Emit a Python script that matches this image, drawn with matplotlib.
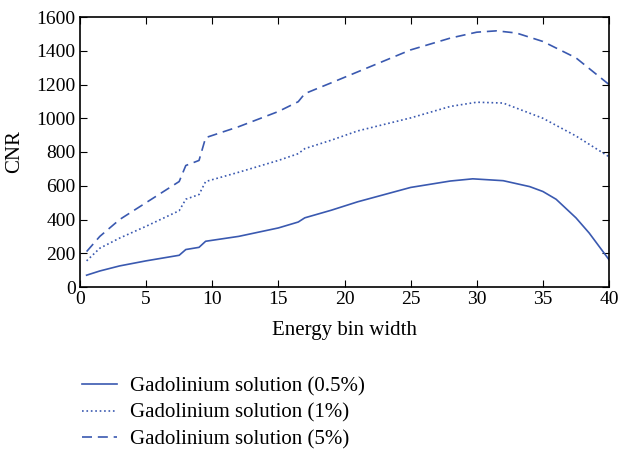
import numpy as np
import matplotlib
matplotlib.use('Agg')
from matplotlib import pyplot as plt

# values
x_lo = [0.5, 1.5, 3, 5, 7.5, 8, 9, 9.5, 12, 15, 16.5, 17, 19, 21, 25, 28, 29.7, 32, 34, 35, 36, 37.5, 38.5, 40]
cnr_05 = [70, 95, 125, 155, 188, 222, 235, 271, 300, 350, 385, 410, 455, 505, 590, 628, 641, 630, 595, 566, 520, 410, 320, 162]
x_mid = [0.5, 1.5, 3, 5, 7.5, 8, 9, 9.5, 12, 15, 16.5, 17, 19, 21, 25, 28, 30, 32, 35, 37.5, 40]
cnr_1 = [155, 230, 290, 360, 452, 520, 548, 625, 680, 750, 790, 820, 870, 925, 1002, 1070, 1095, 1090, 1000, 895, 772]
x_hi = [0.5, 1.5, 3, 5, 7.5, 8, 9, 9.5, 12, 15, 16.5, 17, 19, 21, 25, 28, 30, 31.5, 33, 35, 37.5, 40]
cnr_5 = [210, 300, 400, 500, 625, 720, 750, 885, 950, 1040, 1098, 1146, 1210, 1275, 1405, 1475, 1510, 1518, 1505, 1455, 1358, 1200]

plt.rcParams['font.family'] = ['Liberation Serif', 'DejaVu Serif']
matplotlib.rc('xtick', labelsize=14)
matplotlib.rc('ytick', labelsize=14)
col = '#3a59b0'

fig = plt.figure(figsize=(6.2, 4.5), dpi=100)
ax = fig.add_axes([80/620, 1-287/450, 529/620, 270/450])
l1, = ax.plot(x_lo, cnr_05, '-', color=col, lw=1.2, label='Gadolinium solution (0.5%)')
l2, = ax.plot(x_mid, cnr_1, ':', color=col, lw=1.2, label='Gadolinium solution (1%)')
l3, = ax.plot(x_hi, cnr_5, '--', color=col, lw=1.2, dashes=(6, 3.5), label='Gadolinium solution (5%)')
ax.set_xlim(0, 40)
ax.set_ylim(0, 1600)
ax.set_xticks(np.arange(0, 41, 5))
ax.set_yticks(np.arange(0, 1601, 200))
ax.tick_params(direction='in', top=True, right=True, length=5, pad=3)
for s in ax.spines.values():
    s.set_linewidth(1.2)
ax.set_xlabel('Energy bin width', fontsize=15, labelpad=9)
ax.set_ylabel('CNR', fontsize=15, labelpad=9)
fig.legend(handles=[l1, l2, l3], loc='upper left', bbox_to_anchor=(82/620, 1-377/450),
           frameon=False, fontsize=15, handlelength=1.7, handletextpad=0.6,
           labelspacing=0.32, borderpad=0, borderaxespad=0)
fig.savefig('out.png', dpi=100)
